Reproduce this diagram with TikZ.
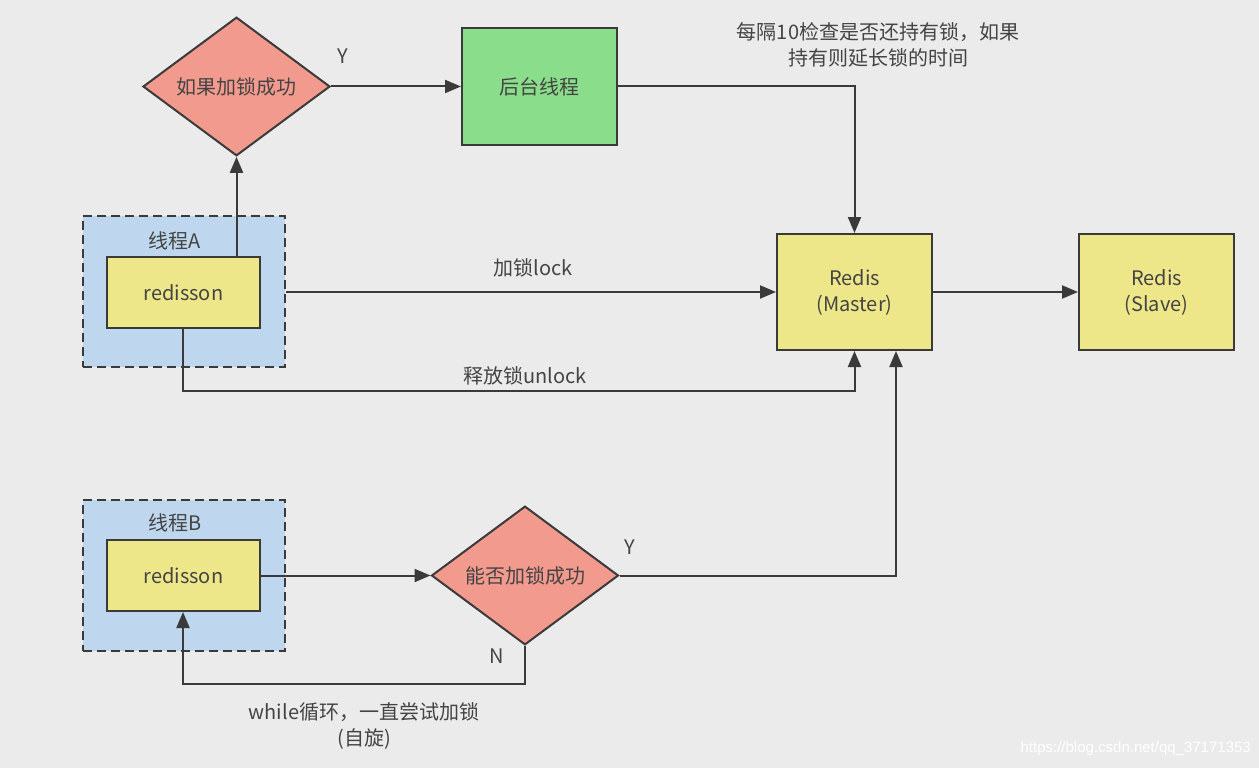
\documentclass[tikz,border=0pt]{standalone}
\usepackage{fontspec}
\setmainfont{Noto Sans CJK SC}
\newfontfamily\wmfont{Liberation Sans}
\usetikzlibrary{shapes.geometric,arrows.meta}
\definecolor{bg}{HTML}{EBEBEB}
\definecolor{ln}{HTML}{3A3A3A}
\definecolor{tx}{HTML}{444444}
\definecolor{bluef}{HTML}{BFD7EE}
\definecolor{yelf}{HTML}{EEE78A}
\definecolor{redf}{HTML}{F39A8E}
\definecolor{grnf}{HTML}{8ADD8A}
\tikzset{
  every node/.style={font=\fontsize{20}{26}\selectfont, text=tx},
  thread/.style={draw=ln, line width=2.2pt, dash pattern=on 9pt off 5pt, fill=bluef, inner sep=0},
  ybox/.style={draw=ln, line width=2pt, fill=yelf, inner sep=0, align=center},
  gbox/.style={draw=ln, line width=2pt, fill=grnf, inner sep=0},
  dec/.style={diamond, draw=ln, line width=2pt, fill=redf, inner sep=0, minimum width=187pt, minimum height=133pt},
  conn/.style={draw=ln, line width=2pt},
  arr/.style={conn, -{Triangle[length=16pt,width=13pt]}},
  lbl/.style={text=tx, align=center}
}
\begin{document}
\begin{tikzpicture}[x=1pt, y=-1pt]
\fill[bg] (0,0) rectangle (1259,768);
\useasboundingbox (0,0) rectangle (1259,768);

% thread A
\node[thread, minimum width=202pt, minimum height=151pt] (tA) at (184,291.5) {};
\node[lbl] (tAl) at (175,241) {线程A};
\node[ybox, minimum width=153pt, minimum height=71pt] (rA) at (183.5,292.5) {redisson};

% thread B
\node[thread, minimum width=202pt, minimum height=151pt] (tB) at (184,575.5) {};
\node[lbl] (tBl) at (175,523) {线程B};
\node[ybox, minimum width=153pt, minimum height=71pt] (rB) at (183.5,575.5) {redisson};

% decisions
\node[dec] (d1) at (236.5,86.5) {如果加锁成功};
\node[dec] (d2) at (525,575.5) {能否加锁成功};

% background thread
\node[gbox, minimum width=155pt, minimum height=117pt] (bg) at (539.5,86.5) {后台线程};

% redis
\node[ybox, minimum width=155pt, minimum height=116pt] (m) at (854.5,292) {Redis\\(Master)};
\node[ybox, minimum width=155pt, minimum height=116pt] (s) at (1156.5,292) {Redis\\(Slave)};

% connectors
\draw[arr] (rA.north -| d1.south) -- (d1.south);
\draw[arr] (d1.east) -- (bg.west);
\node[lbl] (y1) at (343,56) {Y};
\draw[arr] (bg.east) -| (m.north);
\node[lbl] (note) at (878,45) {每隔10检查是否还持有锁，如果\\持有则延长锁的时间};

\draw[arr] (tA.east |- m.west) -- (m.west);
\node[lbl] (lk) at (533,268) {加锁lock};

\coordinate (u1) at (183,391);
\draw[arr] (rA.south -| u1) -- (u1) -| (m.south);
\node[lbl] (ul) at (525,376) {释放锁unlock};

\draw[arr] (m.east) -- (s.west);

\draw[arr] (rB.east) -- (d2.west);
\coordinate (y2c) at (896,575.5);
\draw[arr] (d2.east) -- (y2c) -- (y2c |- m.south);
\node[lbl] (y2) at (630,547) {Y};

\coordinate (n1) at (525,684);
\coordinate (n2) at (183,684);
\draw[arr] (d2.south) -- (n1) -- (n2) -- (rB.south -| n2);
\node[lbl] (nl) at (497,656) {N};
\node[lbl] (wl) at (364,726) {while循环，一直尝试加锁\\(自旋)};

\node[text=white, font=\wmfont\fontsize{15}{18}\selectfont, anchor=east, inner sep=0] (wm) at (1251,749) {https://blog.csdn.net/qq\_37171353};
\end{tikzpicture}
\end{document}
